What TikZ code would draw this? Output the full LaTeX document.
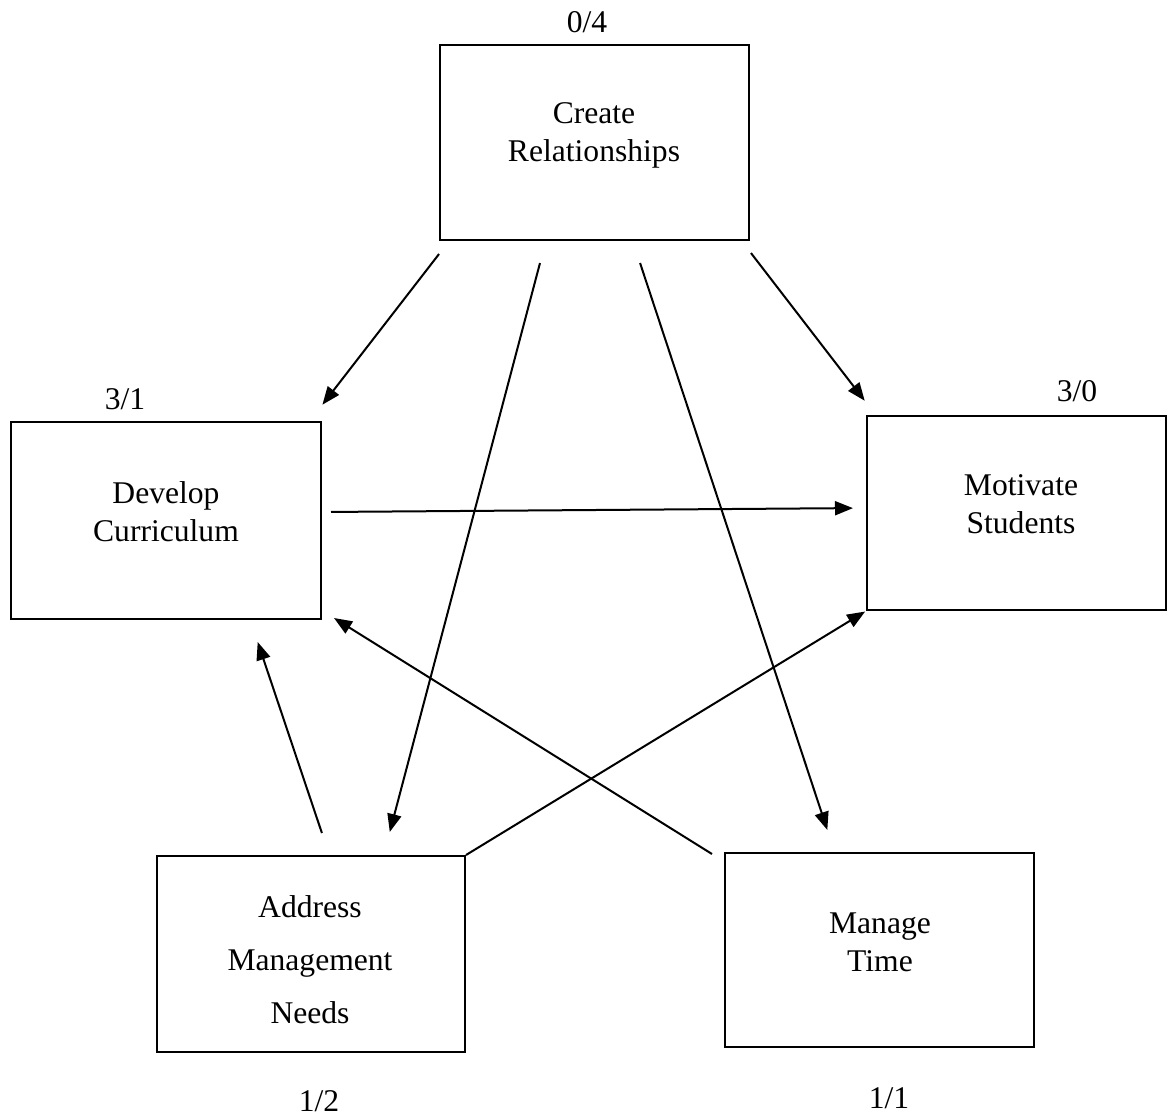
\documentclass[tikz,border=0pt]{standalone}
\usepackage{fontspec}
\setmainfont{Liberation Serif}
\usetikzlibrary{calc,arrows.meta}
\begin{document}
\begin{tikzpicture}[x=0.5pt,y=-0.5pt,
  box/.style={draw,line width=1pt,inner sep=0pt},
  txt/.style={align=center,font=\fontsize{15.8}{19}\selectfont,inner sep=0pt},
  num/.style={font=\fontsize{15.8}{19}\selectfont,inner sep=0pt},
  arr/.style={line width=1pt,-{Triangle[length=9pt,width=7pt]}}]
\useasboundingbox (0,0) rectangle (1168,1116);
% boxes
\node[box,minimum width=154.5pt,minimum height=97.5pt] (cr) at (594.5,142.5) {};
\node[box,minimum width=155pt,minimum height=98.5pt] (dc) at (166,520.5) {};
\node[box,minimum width=149.5pt,minimum height=97pt] (ms) at (1016.5,513) {};
\node[box,minimum width=154pt,minimum height=98pt] (am) at (311,954) {};
\node[box,minimum width=154.5pt,minimum height=97pt] (mt) at (879.5,950) {};
% texts
\node[txt] (crt) at (594,135) {Create\\Relationships};
\node[txt] (dct) at (166,512) {Develop\\Curriculum};
\node[txt] (mst) at (1021,504) {Motivate\\Students};
\node[txt,font=\fontsize{15.8}{26.5}\selectfont] (amt) at (310,960) {Address\\Management\\Needs};
\node[txt] (mtt) at (880,942) {Manage\\Time};
% numbers
\node[num] (n1) at (587,22) {0/4};
\node[num] (n2) at (125,399) {3/1};
\node[num] (n3) at (1077,391) {3/0};
\node[num] (n4) at (319,1101) {1/2};
\node[num] (n5) at (889,1098) {1/1};
% arrows
\draw[arr,shorten <=8.2pt,shorten >=10.3pt] ($(cr.south west)+(10.1,0)$) -- ($(dc.north east)+(-12.2,0)$);
\draw[arr,shorten <=11.4pt,shorten >=11.9pt] ($(cr.south)+(-48.7,0)$) -- ($(am.north)+(72.7,0)$);
\draw[arr,shorten <=11.6pt,shorten >=11.6pt] ($(cr.south)+(38.3,0)$) -- ($(mt.north)+(-44.9,0)$);
\draw[arr,shorten <=7.6pt,shorten >=9pt] ($(cr.south east)+(-8.3,0)$) -- ($(ms.north west)+(9.7,0)$);
\draw[arr,shorten <=4.5pt,shorten >=6.5pt] ($(dc.east)+(0,-8.5)$) -- ($(ms.west)+(0,-5)$);
\draw[arr] ($(mt.north west)+(-12,2)$) -- ($(dc.south east)+(12,-2)$);
\draw[arr,shorten >=0.5pt] (am.north east) -- (ms.south west);
\draw[arr,shorten <=11.6pt,shorten >=11.6pt] ($(am.north)+(18.3,0)$) -- ($(dc.south)+(84.3,0)$);
\end{tikzpicture}
\end{document}
